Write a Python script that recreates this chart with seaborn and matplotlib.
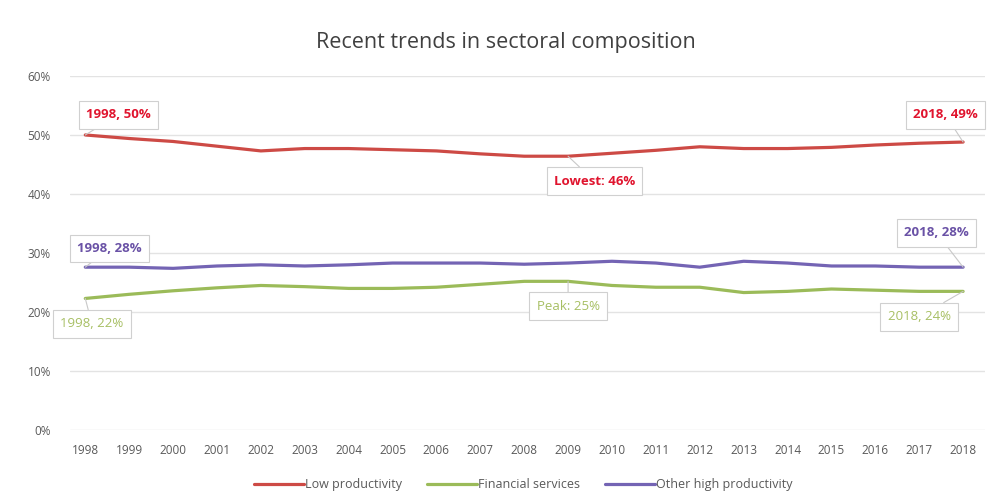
import matplotlib
matplotlib.use("Agg")
import matplotlib.pyplot as plt
import seaborn as sns
import pandas as pd
from matplotlib.ticker import FuncFormatter

years = list(range(1998, 2019))
low_productivity = [50.0, 49.4, 48.9, 48.1, 47.3, 47.7, 47.7, 47.5, 47.3, 46.8, 46.4,
                    46.4, 46.9, 47.4, 48.0, 47.7, 47.7, 47.9, 48.3, 48.6, 48.8]
financial_services = [22.3, 23.0, 23.6, 24.1, 24.5, 24.3, 24.0, 24.0, 24.2, 24.7, 25.2,
                      25.2, 24.5, 24.2, 24.2, 23.3, 23.5, 23.9, 23.7, 23.5, 23.5]
other_high = [27.6, 27.6, 27.4, 27.8, 28.0, 27.8, 28.0, 28.3, 28.3, 28.3, 28.1,
              28.3, 28.6, 28.3, 27.6, 28.6, 28.3, 27.8, 27.8, 27.6, 27.6]
series_names = ["Low productivity", "Financial services", "Other high productivity"]
line_colors = ["#CD4A45", "#9BBB59", "#7464B4"]
text_colors = ["#E0142E", "#A7BF63", "#6A52A6"]
y_ticks = [0, 10, 20, 30, 40, 50, 60]

df = pd.DataFrame({
    "year": years * 3,
    "share": low_productivity + financial_services + other_high,
    "series": [series_names[0]] * len(years) + [series_names[1]] * len(years)
              + [series_names[2]] * len(years),
})

sns.set_theme(style="white")
plt.rcParams["font.family"] = ["Open Sans", "DejaVu Sans"]

fig = plt.figure(figsize=(9.91, 5.03), dpi=100)
ax = fig.add_axes([0.071, 0.145, 0.923, 0.704])

sns.lineplot(data=df, x="year", y="share", hue="series", hue_order=series_names,
             palette=line_colors, linewidth=2.3, ax=ax, legend=True)

ax.set_ylim(0, 60)
ax.set_xlim(1997.66, 2018.5)
ax.set_yticks(y_ticks)
ax.yaxis.set_major_formatter(FuncFormatter(lambda v, _: f"{v:.0f}%"))
ax.set_xticks(years)
ax.set_xticklabels([str(y) for y in years])
ax.grid(axis="y", color="#E3E3E3", linewidth=1)
ax.grid(axis="x", visible=False)
for s in ax.spines.values():
    s.set_visible(False)
ax.tick_params(axis="both", colors="#595959", labelsize=8.5, length=0)
ax.tick_params(axis="y", pad=14)
ax.tick_params(axis="x", pad=10)
ax.set_xlabel("")
ax.set_ylabel("")

fig.text(0.51, 0.915, "Recent trends in sectoral composition", ha="center",
         va="center", fontsize=15.5, color="#404040")

handles, labels = ax.get_legend_handles_labels()
ax.legend(handles, labels, loc="center", bbox_to_anchor=(0.495, -0.155),
          ncol=3, frameon=False, fontsize=9, handlelength=4.0,
          handletextpad=0.1, columnspacing=2.0, labelcolor="#595959")


def callout(x, y, text, xt, yt, color, bold=False):
    ax.annotate(text, xy=(x, y), xytext=(xt, yt), textcoords="data",
                ha="center", va="center", fontsize=9.5, color=color,
                fontweight="bold" if bold else "normal",
                bbox=dict(boxstyle="square,pad=0.55", fc="white", ec="#D0D0D0", lw=0.8),
                arrowprops=dict(arrowstyle="-", color="#C8C8C8", lw=0.8,
                                shrinkA=0, shrinkB=0))


i_low = low_productivity.index(min(low_productivity))
i_peak = financial_services.index(max(financial_services))

callout(years[0], low_productivity[0], f"{years[0]}, {round(low_productivity[0])}%",
        1998.75, 53.4, text_colors[0], bold=True)
callout(years[-1], low_productivity[-1], f"{years[-1]}, {round(low_productivity[-1])}%",
        2017.6, 53.4, text_colors[0], bold=True)
callout(years[i_low + 1], low_productivity[i_low], f"Lowest: {round(low_productivity[i_low])}%",
        2009.6, 42.2, text_colors[0], bold=True)
callout(years[0], other_high[0], f"{years[0]}, {round(other_high[0])}%",
        1998.55, 30.8, text_colors[2], bold=True)
callout(years[-1], other_high[-1], f"{years[-1]}, {round(other_high[-1])}%",
        2017.4, 33.4, text_colors[2], bold=True)
callout(years[0], financial_services[0], f"{years[0]}, {round(financial_services[0])}%",
        1998.15, 18.0, text_colors[1])
callout(years[i_peak + 1], financial_services[i_peak], f"Peak: {round(financial_services[i_peak])}%",
        2009.0, 21.0, text_colors[1])
callout(years[-1], financial_services[-1], f"{years[-1]}, {round(financial_services[-1])}%",
        2017.0, 19.2, text_colors[1])

fig.savefig("out.png", dpi=100, facecolor="white")
